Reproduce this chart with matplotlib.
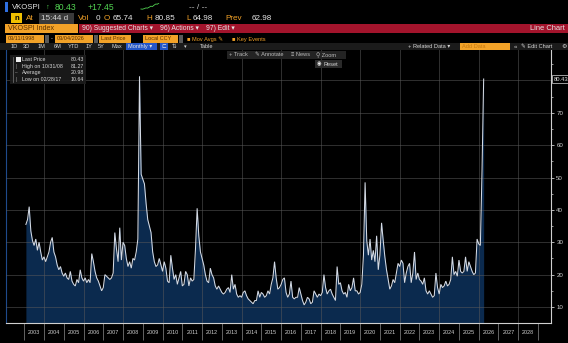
import numpy as np
import pandas as pd
import matplotlib
matplotlib.use("Agg")
import matplotlib.pyplot as plt
from matplotlib.patches import Rectangle

# ---------------------------------------------------------------- data
# VKOSPI monthly closes (month-end), Jan 2003 .. Mar 2026
vk_2003 = [35.5, 37.0, 41.0, 33.5, 30.5, 29.0, 31.0, 27.5, 30.0, 27.0, 24.5, 25.5]
vk_2004 = [24.0, 25.5, 27.0, 30.0, 31.5, 27.0, 25.5, 23.0, 21.5, 22.5, 20.5, 19.5]
vk_2005 = [20.5, 19.0, 18.5, 21.0, 18.0, 17.0, 16.5, 18.5, 17.5, 21.5, 19.0, 18.0]
vk_2006 = [19.0, 17.5, 18.5, 17.5, 26.5, 24.0, 21.0, 19.0, 18.0, 16.5, 15.0, 16.0]
vk_2007 = [20.0, 19.5, 19.0, 18.5, 19.0, 20.5, 33.0, 28.0, 24.0, 34.5, 24.5, 30.0]
vk_2008 = [29.0, 25.0, 22.5, 24.0, 22.0, 25.0, 24.5, 27.0, 31.0, 81.27, 51.0, 49.5]
vk_2009 = [48.0, 42.0, 37.0, 35.0, 33.0, 27.0, 24.0, 22.5, 23.0, 25.0, 23.0, 21.0]
vk_2010 = [24.0, 22.0, 18.0, 17.5, 26.0, 22.0, 18.5, 20.0, 17.0, 19.0, 21.0, 16.5]
vk_2011 = [17.0, 21.0, 20.0, 16.5, 19.0, 18.0, 18.5, 28.0, 40.5, 32.0, 27.0, 25.0]
vk_2012 = [23.0, 20.0, 18.0, 17.5, 22.0, 20.0, 19.0, 16.5, 15.5, 16.5, 15.5, 14.5]
vk_2013 = [14.0, 14.5, 15.5, 16.0, 14.5, 20.0, 15.5, 17.0, 14.0, 13.0, 13.5, 13.0]
vk_2014 = [14.5, 15.0, 13.5, 12.5, 12.0, 11.5, 11.0, 12.0, 12.0, 15.0, 13.0, 14.5]
vk_2015 = [14.0, 13.0, 13.5, 15.0, 14.0, 17.0, 19.0, 24.0, 19.0, 15.5, 16.0, 17.0]
vk_2016 = [18.5, 19.0, 14.5, 13.0, 14.0, 18.0, 13.0, 12.5, 13.0, 13.0, 16.0, 14.0]
vk_2017 = [12.0, 10.64, 11.5, 13.0, 12.5, 11.0, 11.5, 15.0, 14.0, 13.0, 14.0, 13.5]
vk_2018 = [14.5, 20.0, 16.0, 14.0, 15.0, 15.5, 14.0, 13.0, 12.0, 22.5, 17.0, 17.5]
vk_2019 = [15.0, 14.0, 14.5, 13.0, 17.0, 15.0, 16.0, 19.0, 15.0, 15.0, 14.0, 14.5]
vk_2020 = [17.0, 26.0, 48.5, 30.5, 26.0, 31.0, 24.5, 27.5, 24.0, 32.0, 21.5, 26.0]
vk_2021 = [36.0, 30.5, 25.5, 21.5, 18.5, 15.5, 16.5, 18.5, 17.5, 20.5, 23.5, 22.5]
vk_2022 = [24.5, 23.5, 17.5, 20.5, 22.5, 23.5, 17.5, 20.5, 27.0, 18.5, 20.5, 18.5]
vk_2023 = [18.0, 17.0, 19.0, 15.0, 14.0, 15.0, 14.0, 13.0, 13.5, 20.5, 16.0, 14.0]
vk_2024 = [17.0, 16.0, 16.5, 18.0, 16.5, 17.0, 18.5, 25.5, 20.0, 21.0, 19.5, 24.5]
vk_2025 = [21.0, 20.5, 21.0, 25.5, 21.0, 24.0, 22.5, 21.0, 20.0, 20.5, 31.0, 29.5]
vk_2026 = [29.0, 52.0, 80.43]

first_year = 2003
years_shown = list(range(2003, 2029))          # labelled years on the time axis
y_ticks = [10, 20, 30, 40, 50, 60, 70]
y_grid = [10, 20, 30, 40, 50, 60, 70, 80]
average_price = 20.98

# intraday sparkline in the quote header
spark = [63.0, 62.5, 64.0, 66.0, 65.5, 68.0, 71.0, 70.0, 74.0, 77.0, 76.5, 80.4]

# header quote values
quote = dict(last="80.43", chg="+17.45", time="15:44 d", vol="0",
             open="65.74", high="80.85", low="64.98", prev="62.98")

values = np.array(vk_2003 + vk_2004 + vk_2005 + vk_2006 + vk_2007 + vk_2008 +
                  vk_2009 + vk_2010 + vk_2011 + vk_2012 + vk_2013 + vk_2014 +
                  vk_2015 + vk_2016 + vk_2017 + vk_2018 + vk_2019 + vk_2020 +
                  vk_2021 + vk_2022 + vk_2023 + vk_2024 + vk_2025 + vk_2026)
n = len(values)
dates = pd.date_range(f"{first_year}-01-31", periods=n, freq="ME")
# month-end positions as fractional years
xpos = first_year + (np.arange(n) + 1) / 12.0

# ---------------------------------------------------------------- styling
W, H, DPI = 568, 343, 100
FONT = ["Liberation Sans", "DejaVu Sans"]
ORANGE = "#f2a228"
BOX_TXT = "#5a3000"
WHITE = "#e6e6e6"
GREEN = "#52d452"
RED = "#a3142c"
NAVY = "#0b2a4e"

plt.rcParams["font.family"] = FONT

fig = plt.figure(figsize=(W / DPI, H / DPI), dpi=DPI, facecolor="black")


def fx(px):
    return px / W


def fy(py):
    return 1 - py / H


def rect(x0, y0, x1, y1, color, alpha=1.0, z=1):
    fig.patches.append(Rectangle((fx(x0), fy(y1)), (x1 - x0) / W, (y1 - y0) / H,
                                 transform=fig.transFigure, facecolor=color,
                                 edgecolor="none", alpha=alpha, zorder=z))


def txt(x, y, s, color=WHITE, size=5.0, ha="left", weight="normal", z=5):
    fig.text(fx(x), fy(y), s, color=color, fontsize=size, ha=ha, va="center",
             family=FONT, weight=weight, zorder=z)


# ---------------------------------------------------------------- main chart
px_per_year = 19.76
x_left = 2004 + (6 - 44) / px_per_year
x_right = 2004 + (551 - 44) / px_per_year
ax = fig.add_axes([fx(6), fy(323), (551 - 6) / W, (323 - 49) / H])
ax.set_facecolor("black")
ax.set_xlim(x_left, x_right)
ax.set_ylim(5.06, 89.7)

ax.fill_between(xpos, values, 0, color=NAVY, lw=0, zorder=2)
ax.plot(xpos, values, color="#d4dae4", lw=0.75, zorder=4, solid_joinstyle="miter")

for g in y_grid:
    ax.axhline(g, color="#5a5a5a", lw=0.5, alpha=0.75, zorder=3)
for yr in range(2004, 2030, 2):
    ax.axvline(yr, color="#5a5a5a", lw=0.5, alpha=0.75, zorder=3)

ax.spines["top"].set_visible(False)
ax.spines["left"].set_color("#1f4a8c")
ax.spines["left"].set_linewidth(0.8)
ax.spines["right"].set_color("#d0d0d0")
ax.spines["right"].set_linewidth(0.8)
ax.spines["bottom"].set_color("#d0d0d0")
ax.spines["bottom"].set_linewidth(0.8)

ax.yaxis.tick_right()
ax.set_yticks(y_ticks)
ax.set_yticklabels([str(t) for t in y_ticks])
ax.set_yticks(np.arange(15, 90, 10), minor=True)
ax.tick_params(axis="y", which="major", length=2.3, width=0.6, color="#d0d0d0",
               labelcolor="#d0d0d0", labelsize=4.4, pad=1.5)
ax.tick_params(axis="y", which="minor", length=1.4, width=0.5, color="#d0d0d0")
for lab in ax.get_yticklabels():
    lab.set_family(FONT)

ax.set_xticks(list(range(2003, 2030)))
ax.set_xticklabels([])
ax.set_xticks([y + 0.5 for y in years_shown], minor=True)
ax.set_xticklabels([str(y) for y in years_shown], minor=True)
ax.tick_params(axis="x", which="major", length=12.5, width=0.5, color="#8a8a8a",
               direction="out")
ax.tick_params(axis="x", which="minor", length=0, labelcolor="#cfcfcf",
               labelsize=3.9, pad=5.4)
for lab in ax.get_xticklabels(minor=True):
    lab.set_family(FONT)

# last price tag on the value axis
ax.annotate(f"{values[-1]:.2f}", xy=(1.0, values[-1]), xycoords=("axes fraction", "data"),
            xytext=(2.0, 0), textcoords="offset points", ha="left", va="center",
            fontsize=4.2, color="#e0e0e0", family=FONT, annotation_clip=False,
            bbox=dict(boxstyle="square,pad=0.25", fc="black", ec="#dddddd", lw=0.5))

# ---------------------------------------------------------------- legend box
i_hi = int(np.argmax(values))
i_lo = int(np.argmin(values))
rect(10, 55, 86, 84, "#1c1c1c", alpha=0.92, z=2)
rect(16, 57.3, 20.5, 61.5, "#f2f2f2", z=3)
fig.lines.append(plt.Line2D([fx(13), fx(13)], [fy(57), fy(82)], transform=fig.transFigure,
                            color="#7a7a7a", lw=0.5, zorder=3))
legend_rows = [
    ("Last Price", f"{values[-1]:.2f}"),
    (f"High on {dates[i_hi]:%m/%d/%y}", f"{values[i_hi]:.2f}"),
    ("Average", f"{average_price:.2f}"),
    (f"Low on {dates[i_lo]:%m/%d/%y}", f"{values[i_lo]:.2f}"),
]
for k, (lab, val) in enumerate(legend_rows):
    yy = 59.4 + k * 6.7
    txt(22, yy, lab, "#d8d8d8", 3.8)
    txt(84, yy, val, "#d8d8d8", 3.8, ha="right")
    if k > 0:
        txt(15.5, yy, "\u2013" if k == 2 else "|", "#9a9a9a", 3.4)

# chart toolbar overlay
rect(227, 51, 346, 59, "#262626", alpha=0.95, z=2)
txt(229, 55, "+ Track", "#bdbdbd", 4.1)
txt(255, 55, "\u270e Annotate", "#bdbdbd", 4.1)
txt(291, 55, "\u2261 News", "#bdbdbd", 4.1)
txt(316, 55, "\u26b2 Zoom", "#bdbdbd", 4.1)
rect(315, 60.5, 342, 67.5, "#2a2a2a", z=2)
txt(317, 64, "\u25c9", "#f0f0f0", 3.8)
txt(324, 64, "Reset", "#d6d6d6", 4.1)

# ---------------------------------------------------------------- header rows
# row 1: quote
rect(5, 2.5, 8, 12, "#2f6fe0")
txt(12, 7.5, "VKOSPI", WHITE, 5.6)
txt(46, 7.5, "\u2191", GREEN, 5.4)
txt(55, 7.5, quote["last"], GREEN, 6.2)
txt(88, 7.5, quote["chg"], GREEN, 6.2)
sp = fig.add_axes([fx(140), fy(9.5), 20 / W, 7 / H])
sp.plot(np.arange(len(spark)), spark, color=GREEN, lw=0.6)
sp.axis("off")
sp.set_facecolor("none")
txt(189, 7.5, "-- / --", "#c8c8c8", 6.0)

# row 2: session stats
rect(11, 13, 22, 23, "#f0c000")
txt(16.5, 18.2, "n", "black", 5.6, ha="center", weight="bold")
txt(26, 18.5, "At", ORANGE, 5.9)
rect(39, 13, 74, 24, "#3a3a3a")
txt(41, 18.5, quote["time"], "#d4d4d4", 5.9)
txt(78, 18.5, "Vol", ORANGE, 5.9)
txt(96, 18.5, quote["vol"], WHITE, 5.9)
txt(104, 18.5, "O", ORANGE, 5.9)
txt(113, 18.5, quote["open"], WHITE, 5.9)
txt(146, 18.5, "H", ORANGE, 5.9)
txt(155, 18.5, quote["high"], WHITE, 5.9)
txt(186, 18.5, "L", ORANGE, 5.9)
txt(193, 18.5, quote["low"], WHITE, 5.9)
txt(225, 18.5, "Prev", ORANGE, 5.9)
txt(252, 18.5, quote["prev"], WHITE, 5.9)

# row 3: security / menu bar
rect(5, 23.5, 78, 32.5, ORANGE)
txt(8, 28.2, "VKOSPI Index", BOX_TXT, 5.1)
rect(79, 23.5, 568, 32.5, RED)
txt(82, 28.2, "90) Suggested Charts \u25be", WHITE, 4.9)
txt(160, 28.2, "96) Actions \u25be", WHITE, 4.9)
txt(206, 28.2, "97) Edit \u25be", WHITE, 4.9)
txt(565, 28.2, "Line Chart", WHITE, 5.4, ha="right")

# row 4: range and field selectors
rect(6, 35.5, 44, 42.5, ORANGE)
txt(8, 39, "03/11/1998", BOX_TXT, 4.0)
rect(45, 35.5, 49, 42.5, "#5a5a5a")
txt(51, 39, "-", WHITE, 4.0)
rect(55, 35.5, 93, 42.5, ORANGE)
txt(57, 39, "03/04/2026", BOX_TXT, 4.0)
rect(94, 35.5, 98, 42.5, "#5a5a5a")
rect(99, 35.5, 131, 42.5, ORANGE)
txt(101, 39, "Last Price", BOX_TXT, 4.0)
rect(143, 35.5, 178, 42.5, ORANGE)
txt(145, 39, "Local CCY", BOX_TXT, 4.0)
rect(179, 35.5, 183, 42.5, "#5a5a5a")
txt(187, 39, "\u25a0 Mov Avgs \u270e", ORANGE, 4.1)
txt(232, 39, "\u25a0 Key Events", ORANGE, 4.1)

# row 5: period buttons and chart tools
rect(0, 42.5, 568, 50, "#1b1b1b")
for lbl, xx in [("1D", 11), ("3D", 23), ("1M", 38), ("6M", 54), ("YTD", 68),
                ("1Y", 86), ("5Y", 98), ("Max", 112)]:
    txt(xx, 46.5, lbl, "#d6d6d6", 4.1)
rect(126, 43, 157, 50, "#2456c8")
txt(128, 46.5, "Monthly \u25be", WHITE, 4.1)
rect(160, 43, 168, 50, "#2456c8")
txt(161.5, 46.5, "\u228f", WHITE, 4.1)
txt(172, 46.5, "\u21c5", "#d6d6d6", 4.1)
txt(184, 46.5, "\u25be", "#d6d6d6", 3.8)
txt(200, 46.5, "Table", "#d6d6d6", 4.1)
txt(408, 46.5, "+ Related Data \u25be", "#d6d6d6", 4.1)
rect(460, 43, 510, 50, ORANGE)
txt(462, 46.5, "Add Data", "#c77a10", 4.1)
txt(514, 46.5, "\u00ab", "#d6d6d6", 4.4)
txt(521, 46.5, "\u270e Edit Chart", "#d6d6d6", 4.1)
txt(561, 46.5, "\u2699", "#d6d6d6", 4.4)

fig.savefig("out.png", dpi=DPI, facecolor="black")
